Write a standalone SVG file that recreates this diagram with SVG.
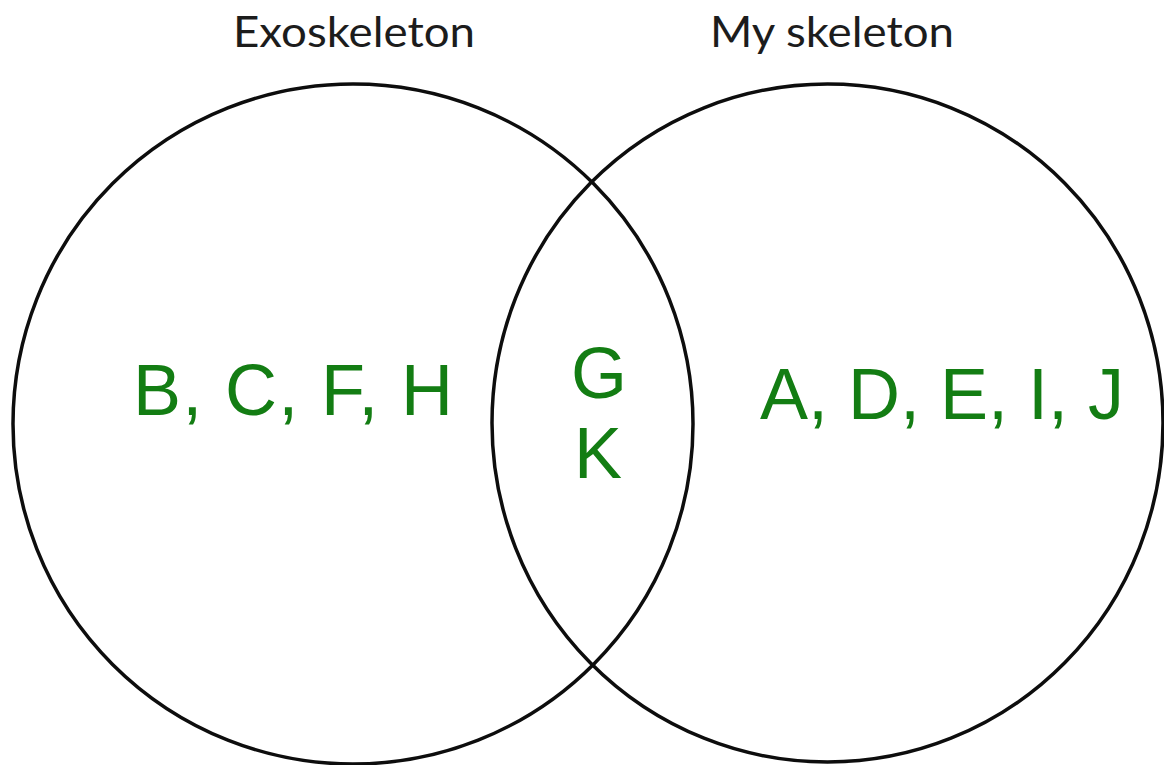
<svg xmlns="http://www.w3.org/2000/svg" width="1164" height="765" viewBox="0 0 1164 765">
<style>
.ring{fill:none;stroke:#0d0d0d;stroke-width:3.5}
.title{font-family:Lato,"Liberation Sans",sans-serif;font-size:42px;fill:#1c1c1c}
.item{font-family:"Liberation Sans",Arial,sans-serif;font-size:72px;fill:#137d13}
</style>
<rect width="1164" height="765" fill="#ffffff"/>
<g id="exoskeleton">
<ellipse class="ring" cx="353" cy="424" rx="340" ry="340"/>
<text class="title" x="233" y="47" textLength="242" lengthAdjust="spacingAndGlyphs">Exoskeleton</text>
<text class="item" x="133" y="415" textLength="320">B, C, F, H</text>
</g>
<g id="my-skeleton">
<ellipse class="ring" cx="827.5" cy="423" rx="335.5" ry="339"/>
<text class="title" x="710" y="47" textLength="244" lengthAdjust="spacingAndGlyphs">My skeleton</text>
<text class="item" x="760" y="419">A, D, E, I, J</text>
</g>
<g id="both">
<text class="item" x="599" y="398" text-anchor="middle">G</text>
<text class="item" x="598" y="478" text-anchor="middle">K</text>
</g>
<g id="connectors"></g>
</svg>
